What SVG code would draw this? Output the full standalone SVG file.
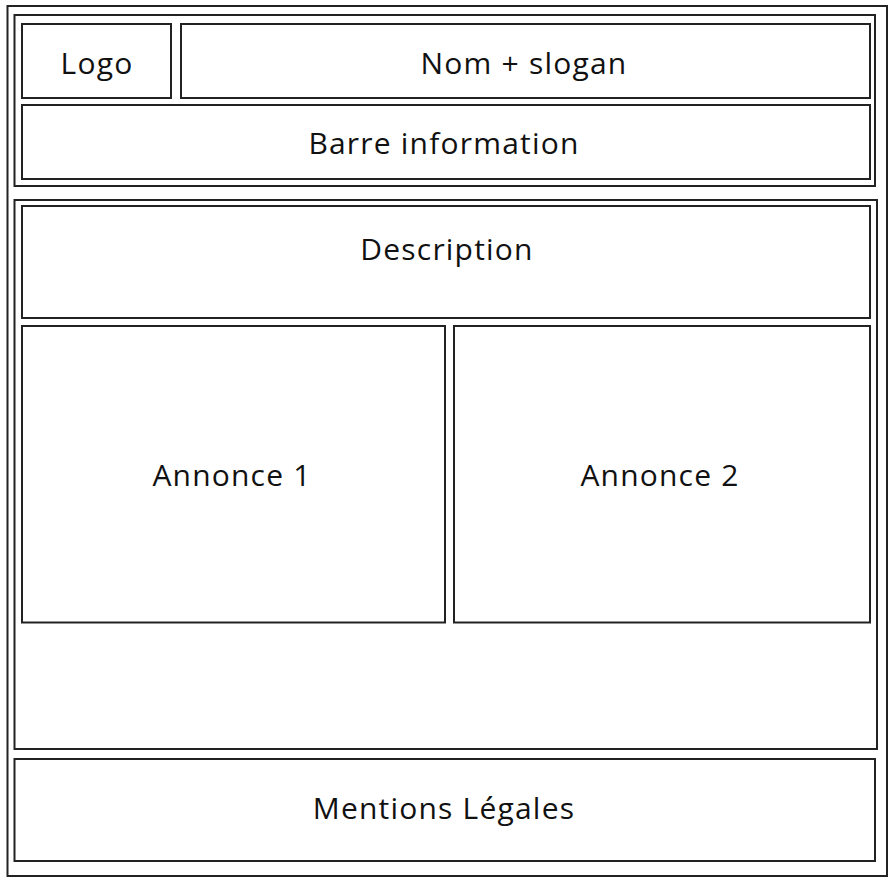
<svg xmlns="http://www.w3.org/2000/svg" width="896" height="886" viewBox="0 0 896 886">
<style>
rect{fill:none;stroke:#222;stroke-width:2}
text{font-family:"Open Sans","Noto Sans",sans-serif;font-size:30px;letter-spacing:1.2px;fill:#111;text-anchor:middle;dominant-baseline:central}
</style>
<rect width="896" height="886" style="fill:#fff;stroke:none"/>
<g id="page"><rect x="7.5" y="6" width="879.5" height="870"/></g>
<g id="header"><rect x="14.5" y="15" width="860.5" height="171"/></g>
<g id="logo"><rect x="22" y="24" width="149" height="74"/><text x="97" y="62">Logo</text></g>
<g id="nom"><rect x="181" y="24" width="689" height="74"/><text x="524" y="62">Nom + slogan</text></g>
<g id="barre"><rect x="22" y="105" width="848" height="74"/><text x="444" y="142">Barre information</text></g>
<g id="description"><rect x="22" y="206" width="848" height="112"/><text x="447" y="248">Description</text></g>
<g id="main"><rect x="14.5" y="200" width="862.5" height="549"/></g>
<g id="annonce1"><rect x="22" y="326" width="423" height="296.5"/><text x="232" y="474">Annonce 1</text></g>
<g id="annonce2"><rect x="454" y="326" width="416" height="296.5"/><text x="660" y="474">Annonce 2</text></g>
<g id="footer"><rect x="14.5" y="759" width="860.5" height="102"/><text x="444" y="807">Mentions Légales</text></g>
<g id="connectors"></g>
</svg>
